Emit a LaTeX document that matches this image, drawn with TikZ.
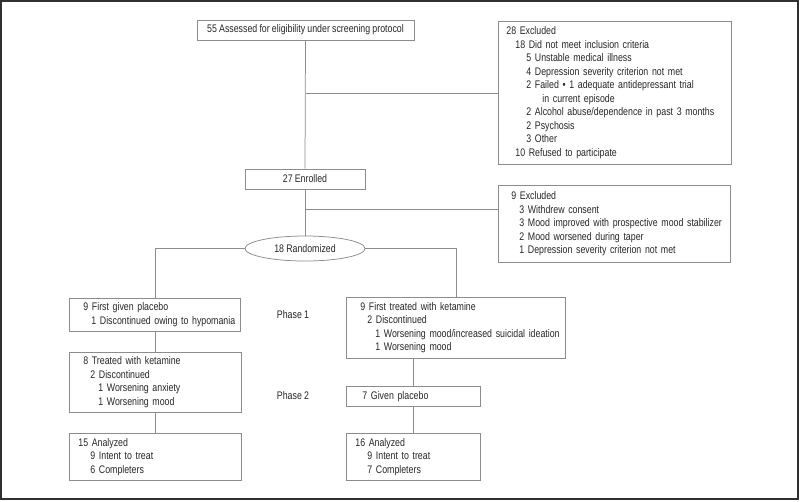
\documentclass[tikz,border=0pt]{standalone}
\usepackage{fontspec}
\setmainfont{Liberation Sans}[FakeStretch=0.80, WordSpace=0.9]
\usetikzlibrary{shapes.geometric}
\definecolor{linegray}{HTML}{8C8C8C}
\definecolor{textgray}{HTML}{262626}
\definecolor{framegray}{HTML}{303030}
\newcommand{\idt}[1]{\hspace*{#1pt}}
\newcommand{\lm}[2]{\leftskip=#1pt\relax #2\par}

\begin{document}
\begin{tikzpicture}[x=1pt, y=-1pt, font=\fontsize{11}{13.5}\selectfont, text=textgray,
    box/.style={draw=linegray, line width=0.75pt, rectangle, inner sep=0pt, align=left, anchor=north west},
    cbox/.style={draw=linegray, line width=0.75pt, rectangle, inner sep=0pt, align=center},
    link/.style={draw=linegray, line width=0.75pt}]
    \useasboundingbox (0,0) rectangle (800,501);
    \draw[line width=2pt, draw=framegray] (1,1) rectangle (798,499);

    % Boxes
    \node[cbox, minimum width=217pt, minimum height=20pt] (assess) at (305.5,30) {55 Assessed for eligibility under screening protocol};
    \node[cbox, minimum width=120pt, minimum height=20pt] (enrol) at (305,179) {27 Enrolled};
    \node[cbox, ellipse, minimum width=120pt, minimum height=25pt] (rand) at (305,248.5) {18 Randomized};

    \node[box, text width=233pt, minimum height=143pt] (excl1) at (498,21) {\lm{8}{28 Excluded\\
        \idt{9}18 Did not meet inclusion criteria\\
        \idt{20}5 Unstable medical illness\\
        \idt{20}4 Depression severity criterion not met\\
        \idt{20}2 Failed • 1 adequate antidepressant trial\\
        \idt{36}in current episode\\
        \idt{20}2 Alcohol abuse/dependence in past 3 months\\
        \idt{20}2 Psychosis\\
        \idt{20}3 Other\\
        \idt{9}10 Refused to participate}};
    \node[box, text width=232pt, minimum height=77pt] (excl2) at (498,185) {\lm{13}{9 Excluded\\
        \idt{8}3 Withdrew consent\\
        \idt{8}3 Mood improved with prospective mood stabilizer\\
        \idt{8}2 Mood worsened during taper\\
        \idt{8}1 Depression severity criterion not met}};

    \node[box, text width=171pt, minimum height=33pt] (plac1) at (69,298) {\lm{14}{9 First given placebo\\
        \idt{8}1 Discontinued owing to hypomania}};
    \node[box, text width=172pt, minimum height=60pt] (ket2) at (69,352) {\lm{14}{8 Treated with ketamine\\
        \idt{7}2 Discontinued\\
        \idt{15}1 Worsening anxiety\\
        \idt{15}1 Worsening mood}};
    \node[box, text width=172pt, minimum height=47pt] (ana1) at (69,433) {\lm{9}{15 Analyzed\\
        \idt{12}9 Intent to treat\\
        \idt{12}6 Completers}};

    \node[box, text width=219pt, minimum height=61pt] (keta) at (346,297) {\lm{14}{9 First treated with ketamine\\
        \idt{7}2 Discontinued\\
        \idt{15}1 Worsening mood/increased suicidal ideation\\
        \idt{15}1 Worsening mood}};
    \node[box, text width=134pt, minimum height=20pt] (plac2) at (346,386) {\lm{16}{7 Given placebo}};
    \node[box, text width=134pt, minimum height=47pt] (ana2) at (346,433) {\lm{9}{16 Analyzed\\
        \idt{12}9 Intent to treat\\
        \idt{12}7 Completers}};

    % Phases
    \node (ph1) at (293,315) {Phase 1};
    \node (ph2) at (293,396) {Phase 2};

    % Edges
    \coordinate (br2) at (305,209);
    \draw[link] (assess.south) -- (enrol.north);
    \draw[link] (excl1.west) -- (excl1.west -| assess.south);
    \draw[link] (enrol.south) -- (rand.north);
    \draw[link] (br2) -- (br2 -| excl2.west);
    \draw[link] (rand.west) -| (plac1.north);
    \draw[link] (rand.east) -| (keta.north);
    \draw[link] (plac1.south) -- (plac1.south |- ket2.north);
    \draw[link] (ket2.south) -- (ket2.south |- ana1.north);
    \draw[link] (plac2.north) -- (plac2.north |- keta.south);
    \draw[link] (plac2.south) -- (ana2.north);
\end{tikzpicture}
\end{document}
